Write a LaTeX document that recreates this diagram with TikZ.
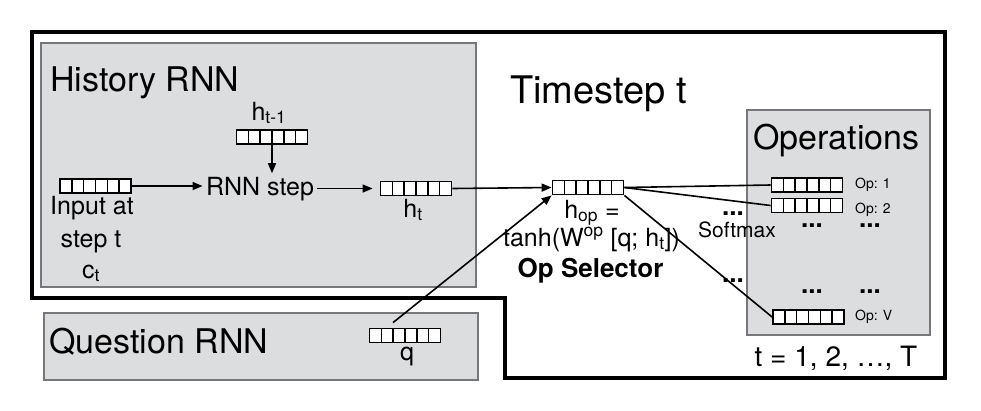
\documentclass[tikz,border=0pt]{standalone}
\usepackage{fontspec}
\setmainfont{TeX Gyre Heros}
\usepackage{tikz}
\usetikzlibrary{calc,arrows.meta}

\definecolor{panelfill}{HTML}{DCDDDF}
\definecolor{panelline}{HTML}{76777A}
\newcommand{\fsz}[1]{\fontsize{#1}{#1}\selectfont}

\tikzset{
  panel/.style={draw=panelline, fill=panelfill, line width=1.6pt},
  title/.style={inner sep=0pt, anchor=base west},
  vec/.style={draw, fill=white, line width=1.8pt, inner sep=0pt,
    minimum width=71pt, minimum height=14pt,
    path picture={
      \foreach \k in {1,...,5}
        \draw[line width=1.4pt]
          ($(path picture bounding box.south west)!\k/6!(path picture bounding box.south east)$) --
          ($(path picture bounding box.north west)!\k/6!(path picture bounding box.north east)$);
    }},
  arr/.style={line width=1.6pt, -{Triangle[length=10pt,width=8pt]}},
  link/.style={line width=1.6pt},
  dots/.style={anchor=base, inner sep=0pt, font=\bfseries\fsz{26}},
}

\begin{document}
\begin{tikzpicture}[x=1pt,y=-1pt]
  \useasboundingbox (0,0) rectangle (981,410);

  %% Timestep frame and panels
  \draw[line width=3.2pt] (32,32) -| (945,378) -| (505,298) -| cycle;
  \draw[panel] (41,43) rectangle (476,287);
  \draw[panel] (44,313) rectangle (478,380);
  \draw[panel] (747,110) rectangle (930,335);

  %% Titles
  \node[title, font=\fsz{34}] (histT) at (50,91)  {History RNN};
  \node[title, font=\fsz{34}] (quesT) at (49,353) {Question RNN};
  \node[title, font=\fsz{38}] (timeT) at (510,103) {Timestep t};
  \node[title, font=\fsz{34}] (opsT)  at (753,149) {Operations};

  %% Vectors
  \foreach \n/\x/\y in {vin/95.5/186, vhprev/272/137, vht/416/188.5,
                        vop/588/187.5, vq/405/335.5, vopA/807/185,
                        vopB/807/205.5, vopV/808.5/317}
    \node[vec] (\n) at (\x,\y) {};

  %% Labels
  \node[anchor=base, font=\fsz{25}] (rnn)    at (260,195) {RNN step};
  \node[anchor=base, font=\fsz{25}] (hprevL) at (269,120) {h\textsubscript{t-1}};
  \node[anchor=base, font=\fsz{25}] (inA)    at (92,214)  {Input at};
  \node[anchor=base, font=\fsz{25}] (inB)    at (91,247)  {step t};
  \node[anchor=base, font=\fsz{25}] (inC)    at (91,278)  {c\textsubscript{t}};
  \node[anchor=base, font=\fsz{25}] (htL)    at (413,217) {h\textsubscript{t}};
  \node[anchor=base, font=\fsz{25}] (qL)     at (407,360) {q};
  \node[anchor=base, font=\fsz{25}] (opA)    at (592,218) {h\textsubscript{op} =};
  \node[anchor=base, font=\fsz{25}] (opB)    at (591.5,246) {tanh(W\textsuperscript{op} [q; h\textsubscript{t}])};
  \node[anchor=base, font=\bfseries\fsz{26}] (opC) at (590.5,277) {Op Selector};
  \node[anchor=base, font=\fsz{21}] (softL)  at (737,237) {Softmax};
  \node[anchor=base, font=\fsz{28}] (tL)     at (836,366) {t = 1, 2, …, T};
  \foreach \n/\t/\y in {A/1/188, B/2/213, V/V/320}
    \node[title, font=\fsz{14}] (lbl\n) at (855,\y) {Op: \t};

  %% Dots
  \foreach \x/\y in {733/215, 812/227, 870/227, 733/282, 812/293, 870/293}
    \node[dots] (dots\x-\y) at (\x,\y) {...};

  %% Connectors
  \draw[arr] (vin.east) -- (vin.east -| rnn.west);
  \draw[arr, shorten >=7pt] (rnn.east |- vht.west) -- (vht.west);
  \draw[arr] (vhprev.south) -- (vhprev.south |- rnn.north);
  \draw[arr] (vht.east) -- (vop.west);
  \draw[arr] ([xshift=-12pt,yshift=5pt]vq.north) -- (vop.south west);
  \draw[link] (vop.east) -- (vopA.west);
  \draw[link] (vop.east) -- (vopB.west);
  \draw[link] (vop.south east) -- (vopV.west);
\end{tikzpicture}
\end{document}
